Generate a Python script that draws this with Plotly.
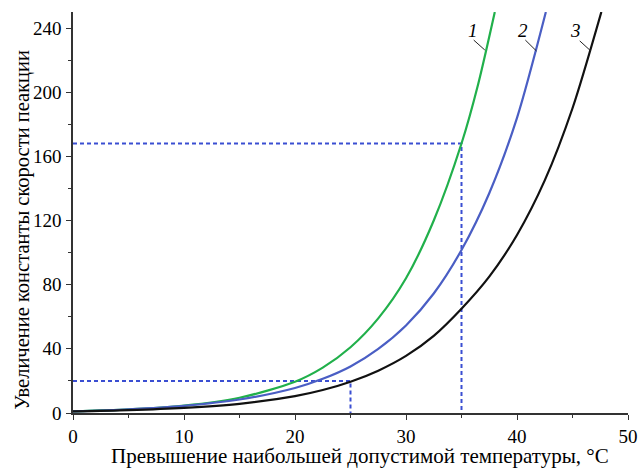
import plotly.graph_objects as go

# Curve 1 (green)
x1 = [0, 5, 10, 15, 20, 22.5, 25, 27.5, 30, 32.5, 35, 36.5, 38]
y1 = [1, 2.2, 4.6, 9.5, 19.5, 28.3, 41, 59, 84, 120, 168, 205, 250]
# Curve 2 (blue)
x2 = [0, 5, 10, 15, 20, 22.5, 25, 27.5, 30, 32.5, 35, 37.5, 40, 42.6]
y2 = [1, 2.3, 4.5, 8.4, 15.6, 21.3, 29, 40, 54.6, 74.5, 101.6, 137, 184, 250]
# Curve 3 (black)
x3 = [0, 5, 10, 15, 20, 22.5, 25, 27.5, 30, 32.5, 35, 37.5, 40, 42.5, 45, 47.6]
y3 = [1, 1.8, 3.2, 5.7, 10.5, 14.3, 19.5, 26.4, 35.6, 48.1, 65, 85, 111, 145, 190, 250]

# Reference (dashed) readings
ref_x = [25, 35]
ref_y = [20, 168]

# Curve labels and leader lines
labels = ["1", "2", "3"]
label_x = [36.0, 40.5, 45.3]
label_y = [238.5, 238.5, 238.5]
leader_x0 = [36.1, 40.75, 45.65]
leader_y0 = [232.5, 232.5, 232.0]
leader_x1 = [37.1, 41.75, 46.65]
leader_y1 = [226.3, 225.7, 225.7]

green = "#21b04b"
blue = "#4a5ec4"
black = "#111111"
dash_blue = "#3a4ed2"
font = "Liberation Serif"

fig = go.Figure()

# dashed reference lines
for rx, ry in zip(ref_x, ref_y):
    fig.add_trace(go.Scatter(x=[0, rx, rx], y=[ry, ry, 0], mode="lines",
                             line=dict(color=dash_blue, width=2, dash="4px,3px"),
                             hoverinfo="skip", showlegend=False))

for xs, ys, c in [(x1, y1, green), (x2, y2, blue), (x3, y3, black)]:
    fig.add_trace(go.Scatter(x=xs, y=ys, mode="lines",
                             line=dict(color=c, width=2.2, shape="spline", smoothing=0.8),
                             showlegend=False))

for i in range(3):
    fig.add_trace(go.Scatter(x=[leader_x0[i], leader_x1[i]], y=[leader_y0[i], leader_y1[i]],
                             mode="lines", line=dict(color="#222", width=1),
                             hoverinfo="skip", showlegend=False))
    fig.add_annotation(x=label_x[i], y=label_y[i], text="<i>" + labels[i] + "</i>",
                       showarrow=False, font=dict(family=font, size=19, color="black"))

axis_common = dict(
    showgrid=False, zeroline=False, showline=True, linecolor="#333", linewidth=1.5,
    ticks="outside", ticklen=5, tickwidth=1.3, tickcolor="#333", automargin=False,
    tickfont=dict(family=font, size=19, color="black"),
)

fig.update_xaxes(range=[0, 50], dtick=10, tick0=0,
                 minor=dict(dtick=5, ticks="outside", ticklen=3, tickcolor="#333"),
                 **axis_common)
fig.update_yaxes(range=[0, 250], dtick=40, tick0=0, ticklabelstandoff=1,
                 minor=dict(dtick=20, ticks="outside", ticklen=3, tickcolor="#333"),
                 **axis_common)

# axis titles
fig.add_annotation(xref="paper", yref="paper", x=0.5176, y=-0.108,
                   text="Превышение наибольшей допустимой температуры, °C",
                   showarrow=False, xanchor="center", yanchor="middle",
                   font=dict(family=font, size=21, color="black"))
fig.add_annotation(xref="paper", yref="paper", x=-0.0909, y=0.456,
                   text="Увеличение константы скорости пеакции", textangle=-90,
                   showarrow=False, xanchor="center", yanchor="middle",
                   font=dict(family=font, size=20.5, color="black"))

fig.update_layout(
    width=638, height=468,
    margin=dict(l=72.5, r=10, t=12, b=55),
    plot_bgcolor="white", paper_bgcolor="white",
)

fig.write_html("out.html", config={"displayModeBar": False},
               post_script="document.body.style.margin='0';")
